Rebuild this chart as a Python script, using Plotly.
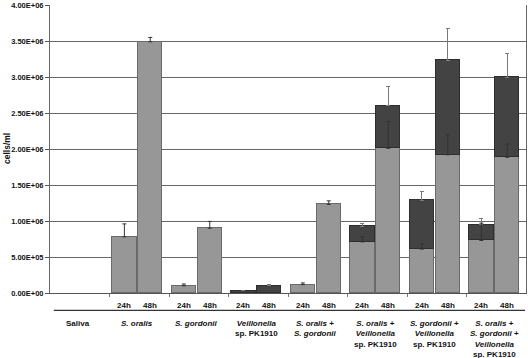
import plotly.graph_objects as go

groups = ["Saliva", "<i>S. oralis</i>", "<i>S. gordonii</i>",
          "<i>Veillonella</i><br>sp. PK1910",
          "<i>S. oralis</i> +<br><i>S. gordonii</i>",
          "<i>S. oralis</i> +<br><i>Veillonella</i><br>sp. PK1910",
          "<i>S. gordonii</i> +<br><i>Veillonella</i><br>sp. PK1910",
          "<i>S. oralis</i> +<br><i>S. gordonii</i> +<br><i>Veillonella</i><br>sp. PK1910"]
times = ["24h", "48h"]

# light (streptococci) portion
light24 = [None, 0.78e6, 0.10e6, None, 0.117e6, 0.71e6, 0.61e6, 0.73e6]
light48 = [None, 3.49e6, 0.90e6, None, 1.23e6, 2.01e6, 1.92e6, 1.885e6]
# total (top of dark Veillonella portion)
total24 = [None, None, None, 0.033e6, None, 0.93e6, 1.29e6, 0.95e6]
total48 = [None, None, None, 0.10e6, None, 2.60e6, 3.23e6, 2.995e6]
# error bars (plus)
lerr24 = [None, 0.18e6, 0.025e6, None, 0.023e6, 0.07e6, 0.07e6, 0.24e6]
lerr48 = [None, 0.06e6, 0.095e6, None, 0.05e6, 0.37e6, 0.28e6, 0.185e6]
derr24 = [None, None, None, 0.007e6, None, 0.04e6, 0.12e6, 0.08e6]
derr48 = [None, None, None, 0.02e6, None, 0.27e6, 0.45e6, 0.33e6]

ytickvals = [0, 0.5e6, 1.0e6, 1.5e6, 2.0e6, 2.5e6, 3.0e6, 3.5e6, 4.0e6]
yticktext = ["0.00E+00", "5.00E+05", "1.00E+06", "1.50E+06", "2.00E+06",
             "2.50E+06", "3.00E+06", "3.50E+06", "4.00E+06"]

OFF = [-0.25, 0.185]
BW = 0.41
FONT = "Liberation Sans, Arial, sans-serif"
LIGHT = "#979797"
DARK = "#434343"

lx, ly, lex, ley, lee = [], [], [], [], []
dx, dy, dee = [], [], []
for ti, (L, T, LE, DE) in enumerate([(light24, total24, lerr24, derr24),
                                     (light48, total48, lerr48, derr48)]):
    for g in range(len(groups)):
        xp = g + OFF[ti]
        if L[g] is not None:
            lx.append(xp); ly.append(L[g])
            lex.append(xp); ley.append(L[g]); lee.append(LE[g])
        if T[g] is not None:
            dx.append(xp); dy.append(T[g] - (L[g] or 0)); dee.append(DE[g])

fig = go.Figure()
fig.add_trace(go.Bar(x=lx, y=ly, width=BW, marker=dict(color=LIGHT, line=dict(color="#6a6a6a", width=1)),
                     showlegend=False, hoverinfo="skip"))
fig.add_trace(go.Bar(x=dx, y=dy, width=BW, marker=dict(color=DARK, line=dict(color="#2e2e2e", width=1)),
                     error_y=dict(type="data", symmetric=False, array=dee, arrayminus=[0]*len(dee),
                                  color="#7a7a7a", thickness=1, width=2),
                     showlegend=False, hoverinfo="skip"))
fig.add_trace(go.Scatter(x=lex, y=ley, mode="markers", marker=dict(size=1, opacity=0),
                         error_y=dict(type="data", symmetric=False, array=lee, arrayminus=[0]*len(lee),
                                      color="#333333", thickness=1, width=2),
                         showlegend=False, hoverinfo="skip"))

ann = []
for g in range(len(groups)):
    if g > 0:
        for ti in range(2):
            ann.append(dict(x=g + OFF[ti], y=0, xref="x", yref="paper", yshift=-12.5,
                            text="<b>" + times[ti] + "</b>", showarrow=False,
                            font=dict(family=FONT, size=8, color="#111"),
                            xanchor="center", yanchor="middle"))
    ann.append(dict(x=g - 0.03, y=0, xref="x", yref="paper", yshift=-24,
                    text="<b>" + groups[g] + "</b>", showarrow=False,
                    font=dict(family=FONT, size=8, color="#111"),
                    xanchor="center", yanchor="top", align="center"))
ann.append(dict(x=0, y=0.5, xref="paper", yref="paper", xshift=-43, text="<b>cells/ml</b>",
                textangle=-90, showarrow=False, font=dict(family=FONT, size=8.5, color="#111"),
                xanchor="center", yanchor="middle"))

fig.update_layout(
    width=528, height=358,
    margin=dict(l=50, r=2, t=5, b=65, autoexpand=False),
    paper_bgcolor="white", plot_bgcolor="white",
    barmode="stack", bargap=0,
    annotations=ann,
    shapes=[dict(type="line", xref="paper", yref="paper", x0=0.008, x1=0.998,
                 y0=-0.06, y1=-0.06, line=dict(color="#333", width=1.2))],
    xaxis=dict(range=[-0.5, 7.5], tickvals=[0.5, 1.5, 2.5, 3.5, 4.5, 5.5, 6.5],
               ticks="outside", ticklen=3, tickcolor="#777", showticklabels=False,
               showline=True, linecolor="#555", linewidth=1, showgrid=False, zeroline=False,
               mirror=False, automargin=False),
    yaxis=dict(range=[0, 4.0005e6], tickvals=ytickvals, ticktext=["<b>%s</b>" % t for t in yticktext],
               tickfont=dict(family=FONT, size=7.5, color="#111"),
               ticks="outside", ticklen=4, tickcolor="#555", automargin=False,
               showline=True, linecolor="#666", linewidth=1, mirror=True,
               showgrid=True, gridcolor="#666", gridwidth=1, zeroline=False),
)
fig.write_html("out.html", config={"displayModeBar": False},
               post_script="document.body.style.margin='0';document.body.style.overflow='hidden';")
